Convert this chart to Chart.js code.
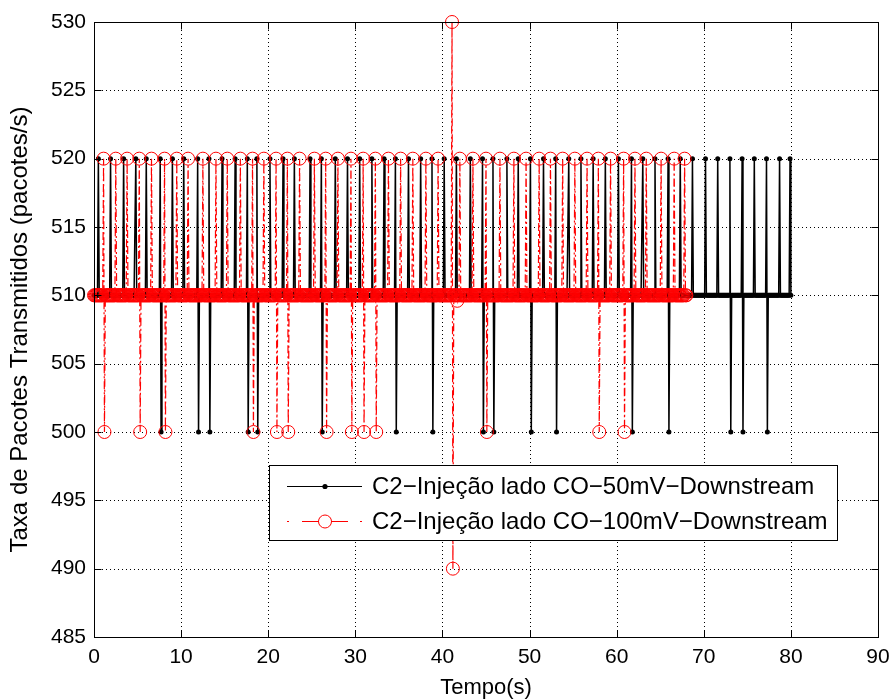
<!DOCTYPE html>
<html><head><meta charset="utf-8">
<script src="https://cdn.jsdelivr.net/npm/chart.js@4"></script>
<style>html,body{margin:0;padding:0;background:#fff;}</style>
</head><body>
<canvas id="c" width="891" height="699"></canvas>
<script>
// ---- data ----
const xTickValues = [0,10,20,30,40,50,60,70,80,90];
const yTickValues = [485,490,495,500,505,510,515,520,525,530];
const xTitle = 'Tempo(s)';
const yTitle = 'Taxa de Pacotes Transmitidos (pacotes/s)';
const seriesNames = ['C2\u2212Injeção lado CO\u221250mV\u2212Downstream', 'C2\u2212Injeção lado CO\u2212100mV\u2212Downstream'];

const sampleStep = 0.1;       // seconds between samples
const baseRate = 510;         // steady packet rate
const peakRate = 520;
const dipRate = 500;

// series 1: 50 mV (black)
const end50 = 80.0;
const peaks50 = [0.5,1.9,3.4,4.8,6.0,7.6,9.0,10.3,11.9,13.2,14.7,16.2,17.6,18.7,20.2,21.7,23.0,24.8,26.1,27.7,29.1,30.5,31.9,33.3,34.6,36.1,37.5,38.8,40.2,41.6,43.2,44.6,45.8,47.4,48.7,50.1,51.6,53.0,54.5,55.9,57.3,58.7,60.2,61.7,63.0,64.4,65.9,67.3,68.7,70.2,71.6,73.0,74.4,75.8,77.2,78.7,79.9];
const dips50 = [7.7,12.0,13.3,17.7,18.8,26.2,34.7,38.9,44.7,45.9,50.2,53.1,61.8,66.0,73.1,74.5,77.3];

// series 2: 100 mV (red)
const end100 = 68.0;
const peaks100 = [1.1,2.5,3.8,5.2,6.6,8.1,9.5,10.8,12.5,14.0,15.3,16.8,18.2,19.5,20.9,22.2,23.6,25.3,26.6,28.0,29.5,30.9,32.3,33.8,35.2,36.6,38.1,39.5,42.0,43.5,45.0,46.6,48.2,49.6,51.1,52.4,53.8,55.2,56.6,57.9,59.3,60.8,62.1,63.4,65.1,66.6,67.8];
const dips100 = [1.2,5.3,8.2,18.3,21.0,22.3,26.7,29.6,31.0,32.4,45.1,58.0,60.9];
const otherTimes100 = [41.1,41.2,41.7];
const otherValues100 = [530,490,509.6];

// ---- build series from the readings ----
function buildSeries(end, peaks, dips, oTimes, oVals){
  const ev = new Map();
  peaks.forEach(t => ev.set(Math.round(t/sampleStep), peakRate));
  dips.forEach(t => ev.set(Math.round(t/sampleStep), dipRate));
  (oTimes||[]).forEach((t,i) => ev.set(Math.round(t/sampleStep), oVals[i]));
  const out = [];
  const n = Math.round(end/sampleStep);
  for (let i=0;i<=n;i++){
    out.push({x: +(i*sampleStep).toFixed(2), y: ev.has(i) ? ev.get(i) : baseRate});
  }
  return out;
}
const data50 = buildSeries(end50, peaks50, dips50);
const data100 = buildSeries(end100, peaks100, dips100, otherTimes100, otherValues100);

const FONT = '"Liberation Sans", Arial, Helvetica, sans-serif';
const SZ = { tick: 21, xt: 22, yt: 24, leg: 24 };

const gridPlugin = {
  id:'mgrid',
  beforeDatasetsDraw(chart){
    const {ctx, chartArea:a, scales:{x,y}} = chart;
    ctx.save();
    ctx.strokeStyle = '#000'; ctx.lineWidth = 1; ctx.setLineDash([1,3]);
    xTickValues.forEach(v=>{ const px = Math.round(x.getPixelForValue(v))+0.5;
      ctx.beginPath(); ctx.moveTo(px,a.top); ctx.lineTo(px,a.bottom); ctx.stroke(); });
    yTickValues.forEach(v=>{ const py = Math.round(y.getPixelForValue(v))+0.5;
      ctx.beginPath(); ctx.moveTo(a.left,py); ctx.lineTo(a.right,py); ctx.stroke(); });
    ctx.restore();
  },
  afterDraw(chart){
    const {ctx, chartArea:a, scales:{x,y}} = chart;
    ctx.save();
    ctx.strokeStyle='#000'; ctx.lineWidth=1; ctx.setLineDash([]);
    const L=Math.round(a.left)+0.5, R=Math.round(a.right)+0.5, T=Math.round(a.top)+0.5, B=Math.round(a.bottom)+0.5;
    ctx.strokeRect(L,T,R-L,B-T);
    const tl = 7;
    ctx.beginPath();
    xTickValues.forEach(v=>{ const px=Math.round(x.getPixelForValue(v))+0.5;
      ctx.moveTo(px,B); ctx.lineTo(px,B-tl); ctx.moveTo(px,T); ctx.lineTo(px,T+tl); });
    yTickValues.forEach(v=>{ const py=Math.round(y.getPixelForValue(v))+0.5;
      ctx.moveTo(L,py); ctx.lineTo(L+tl,py); ctx.moveTo(R,py); ctx.lineTo(R-tl,py); });
    ctx.stroke();

    // legend box
    const bx=269.5, by=465.5, bw=568, bh=75;
    ctx.fillStyle='#fff'; ctx.fillRect(bx,by,bw,bh);
    ctx.strokeRect(bx,by,bw,bh);
    const r1=486.5, r2=521.5, mx=325;
    // row 1: solid black with dot
    ctx.strokeStyle='#000'; ctx.lineWidth=1.2;
    ctx.beginPath(); ctx.moveTo(287,r1); ctx.lineTo(362,r1); ctx.stroke();
    ctx.fillStyle='#000'; ctx.beginPath(); ctx.arc(mx,r1,2.6,0,Math.PI*2); ctx.fill();
    // row 2: red dash-dot with circle
    ctx.strokeStyle='#f00'; ctx.lineWidth=1.2;
    ctx.beginPath();
    ctx.moveTo(287,r2); ctx.lineTo(289,r2);
    ctx.moveTo(302,r2); ctx.lineTo(319,r2);
    ctx.moveTo(331,r2); ctx.lineTo(348,r2);
    ctx.moveTo(360,r2); ctx.lineTo(362,r2);
    ctx.stroke();
    ctx.lineWidth=1;
    ctx.beginPath(); ctx.arc(mx,r2,6.5,0,Math.PI*2); ctx.stroke();
    ctx.fillStyle='#000'; ctx.font=SZ.leg+'px '+FONT; ctx.textBaseline='middle'; ctx.textAlign='left';
    ctx.fillText(seriesNames[0], 372, r1+1);
    ctx.fillText(seriesNames[1], 372, r2+1);
    ctx.restore();
  }
};

new Chart(document.getElementById('c'), {
  type:'line',
  data:{ datasets:[
    { label:seriesNames[0], data:data50, borderColor:'#000', borderWidth:1.5,
      pointRadius:2.5, pointBackgroundColor:'#000', pointBorderWidth:0, order:1, clip:false },
    { label:seriesNames[1], data:data100, borderColor:'#f00', borderWidth:1.2, borderDash:[8,3,2,3],
      pointRadius:6.5, pointBorderColor:'#f00', pointBackgroundColor:'rgba(0,0,0,0)', pointBorderWidth:1, order:0, clip:false }
  ]},
  options:{
    responsive:false, animation:false, events:[], devicePixelRatio:1,
    layout:{ padding:{ top:22, right:13, left:0, bottom:0 } },
    plugins:{ legend:{display:false}, tooltip:{enabled:false} },
    elements:{ line:{ tension:0 } },
    scales:{
      x:{ type:'linear', min:0, max:90,
        afterFit(s){ s.height = 62; s.paddingLeft = 0; s.paddingRight = 0; },
        afterBuildTicks(s){ s.ticks = xTickValues.map(v=>({value:v})); },
        grid:{ display:false, drawTicks:false }, border:{display:false},
        ticks:{ color:'#000', font:{family:FONT, size:SZ.tick}, padding:8, maxRotation:0, autoSkip:false },
        title:{ display:true, text:xTitle, color:'#000', font:{family:FONT, size:SZ.xt, lineHeight:1}, padding:{top:0,bottom:0} } },
      y:{ type:'linear', min:485, max:530,
        afterFit(s){ s.width = 94; s.paddingTop = 0; s.paddingBottom = 0; },
        afterBuildTicks(s){ s.ticks = yTickValues.map(v=>({value:v})); },
        grid:{ display:false, drawTicks:false }, border:{display:false},
        ticks:{ color:'#000', font:{family:FONT, size:SZ.tick}, padding:8, autoSkip:false },
        title:{ display:true, text:yTitle, color:'#000', font:{family:FONT, size:SZ.yt, lineHeight:1}, padding:{top:8,bottom:0} } }
    }
  },
  plugins:[gridPlugin]
});
</script>
</body></html>
